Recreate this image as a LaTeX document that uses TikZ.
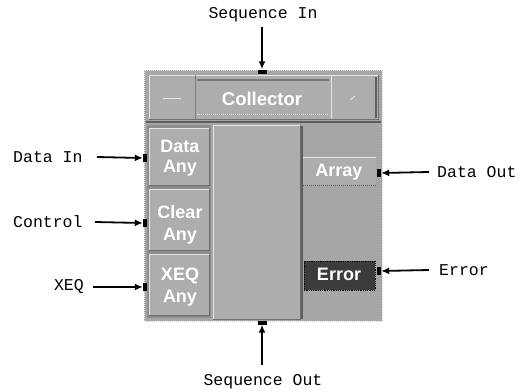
\documentclass[tikz,border=0pt]{standalone}
\usepackage{fontspec}
\setmainfont{Liberation Sans}
\newfontfamily\labelfont{Liberation Mono}
\usetikzlibrary{arrows.meta}
\definecolor{panel}{HTML}{A6A6A6}
\definecolor{face}{HTML}{ADADAD}
\definecolor{hilite}{HTML}{E6E6E6}
\definecolor{darkedge}{HTML}{5E5E5E}
\definecolor{errfill}{HTML}{3C3C3C}
\tikzset{
  lbl/.style={font=\labelfont\fontsize{16.5}{16.5}\selectfont, text=black, inner sep=0pt},
  wtxt/.style={font=\bfseries\fontsize{18}{18}\selectfont, text=white, inner sep=0pt},
  pin/.style={fill=black, draw=none, inner sep=0pt, minimum width=4pt, minimum height=8pt},
  hpin/.style={fill=black, draw=none, inner sep=0pt, minimum width=9pt, minimum height=4pt},
  conn/.style={line width=1.8pt, -{Latex[length=8pt,width=7pt]}},
}
% raised box: face fill, light top/left edge, dark bottom/right edge
\newcommand\bevelbox[5]{%
  \fill[#5] (#1,#2) rectangle (#3,#4);
  \draw[hilite, line width=1pt] (#1,#4) -- (#1,#2) -- (#3,#2);
  \draw[darkedge!80!face, line width=1pt] (#1,#4) -- (#3,#4) -- (#3,#2);
}
\begin{document}
\begin{tikzpicture}[x=1pt,y=-1pt]
\useasboundingbox (0,0) rectangle (519,391);
\fill[white] (0,0) rectangle (519,391);

% outer panel
\fill[panel] (144,70) rectangle (382,321);
\draw[hilite, line width=1pt, densely dotted] (144,321) -- (144,70) -- (382,70);
\draw[hilite!70!panel, line width=1pt, densely dotted] (382,70) -- (382,321) -- (144,321);

% title bar
\bevelbox{149}{75}{378}{119}{face}
\draw[darkedge!60!face, line width=1pt] (195,75) -- (195,119);
\draw[hilite, line width=1pt] (331,76) -- (331,119);
\draw[darkedge!70!face, line width=1.5pt] (197,80) -- (329,80);
\draw[hilite, line width=1pt, densely dotted] (197,114) -- (329,114);
\draw[darkedge, line width=1.5pt] (376,77) -- (376,118);
\draw[hilite, line width=1pt] (163,98) -- (181,98);
\draw[hilite, line width=0.8pt] (350,100) -- (355,96);
\node[wtxt, font=\bfseries\fontsize{18.5}{18.5}\selectfont] (title) at (262,99) {Collector};
\draw[darkedge, line width=2.5pt] (146,122) -- (381,122);

% input terminals column
\fill[darkedge!35!panel] (147,125) rectangle (211,318);
\bevelbox{149}{128}{209}{185}{face}
\bevelbox{149}{189}{209}{250}{face}
\bevelbox{149}{254}{209}{315}{face}
\node[wtxt] (din1) at (180,146) {Data};
\node[wtxt] (din2) at (180,168) {Any};
\node[wtxt] (clr1) at (180,212) {Clear};
\node[wtxt] (clr2) at (180,236) {Any};
\node[wtxt] (xeq1) at (180,276) {XEQ};
\node[wtxt] (xeq2) at (180,298) {Any};

% central body
\bevelbox{213}{125}{300}{319}{face}
\draw[darkedge, line width=1.5pt] (302,126) -- (302,319);

% output terminals
\fill[face] (303,157) rectangle (376,185);
\draw[hilite, line width=1pt] (303,157) -- (376,157);
\draw[darkedge, line width=1pt, densely dotted] (303,185) -- (376,185);
\node[wtxt] (arr) at (339,172) {Array};
\fill[errfill] (304,261) rectangle (375,290);
\draw[black, line width=0.8pt, densely dotted] (304,261) rectangle (375,290);
\node[wtxt] (err) at (339,274) {Error};

% pins
\node[pin] (pdatain) at (145,158) {};
\node[pin] (pctrl) at (145,223) {};
\node[pin] (pxeq) at (145,287) {};
\node[pin] (pdataout) at (379,173) {};
\node[pin] (perror) at (379,271) {};
\node[hpin] (pseqin) at (262,71.5) {};
\node[hpin] (pseqout) at (262,322.5) {};

% labels
\node[lbl] (lseqin) at (263,15) {Sequence In};
\node[lbl] (lseqout) at (263,382) {Sequence Out};
\node[lbl, anchor=west] (ldatain) at (13,157) {Data In};
\node[lbl, anchor=west] (lctrl) at (13,222) {Control};
\node[lbl, anchor=east] (lxeq) at (84,287) {XEQ};
\node[lbl, anchor=west] (ldataout) at (437,172) {Data Out};
\node[lbl, anchor=west] (lerror) at (439,270) {Error};

% connectors
\draw[conn] (262,27) -- (pseqin.north);
\draw[conn] (262,365) -- (pseqout.south);
\draw[conn] (97,157) -- (pdatain.west);
\draw[conn] (95,222) -- (pctrl.west);
\draw[conn] (93,287) -- (pxeq.west);
\draw[conn] (429,172) -- (pdataout.east);
\draw[conn] (429,270) -- (perror.east);
\end{tikzpicture}
\end{document}
